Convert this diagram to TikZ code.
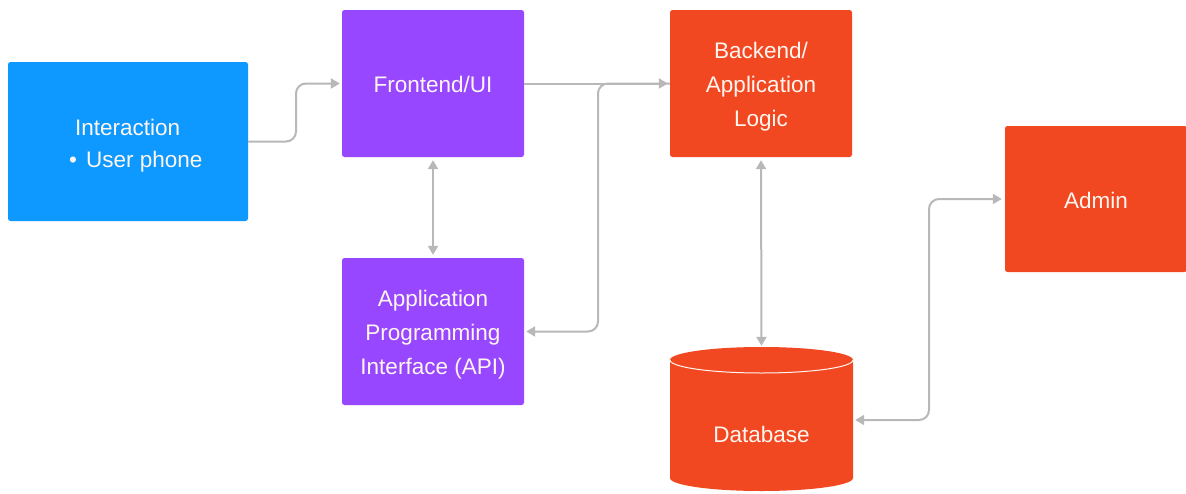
\documentclass[tikz,border=0pt]{standalone}
\usepackage{fontspec}
\setmainfont{Liberation Sans}
\usetikzlibrary{arrows.meta}
\definecolor{cblue}{HTML}{0D99FF}
\definecolor{cpurple}{HTML}{9747FF}
\definecolor{corange}{HTML}{F24822}
\definecolor{cline}{HTML}{B8B8B8}
\definecolor{ctext}{HTML}{FFF6F0}
\begin{document}
\begin{tikzpicture}[x=1pt,y=-1pt,
  box/.style={rounded corners=2.5pt, minimum width=182pt, minimum height=147pt, inner sep=0pt},
  lbl/.style={text=ctext, align=center, inner sep=0pt, font=\fontsize{22.5}{34}\selectfont},
  conn/.style={draw=cline, line width=2pt, rounded corners=10pt},
  tipend/.style={-{Triangle[length=9pt,width=10pt]}, shorten >=2pt},
  tipboth/.style={{Triangle[length=9pt,width=10pt]}-{Triangle[length=9pt,width=10pt]}, shorten >=3pt, shorten <=3pt}
]
\useasboundingbox (0,0) rectangle (1186,493);
\fill[white] (0,0) rectangle (1186,493);

% boxes
\node[box, fill=cblue, minimum width=240pt, minimum height=159pt] (inter) at (128,141.5) {};
\node[lbl, align=left, anchor=west, font=\fontsize{22.5}{32}\selectfont] (intertext) at (75,145.5) {Interaction\\\hspace*{-6pt}\textbullet\hspace{9pt}User phone};

\node[box, fill=cpurple] (front) at (433,83.5) {};
\node[lbl] (fronttext) at (433,84.5) {Frontend/UI};

\node[box, fill=cpurple] (api) at (433,331.5) {};
\node[lbl] (apitext) at (433,335) {Application\\Programming\\Interface (API)};

\node[box, fill=corange] (back) at (761,83.5) {};
\node[lbl] (backtext) at (761,86.5) {Backend/\\Application\\Logic};

\node[box, fill=corange, minimum height=146pt] (admin) at (1096,199) {};
\node[lbl] (admintext) at (1096,200) {Admin};

% database cylinder
\fill[corange] (670,360) -- (670,478) arc[start angle=180,end angle=360,x radius=91.5pt,y radius=13pt]
  -- (853,360) arc[start angle=0,end angle=180,x radius=91.5pt,y radius=13pt] -- cycle;
\draw[ctext, line width=1pt] (670,360) arc[start angle=180,end angle=360,x radius=91.5pt,y radius=13pt];
\node[minimum width=183pt, minimum height=144pt, inner sep=0pt] (db) at (761.5,420) {};
\node[lbl] (dbtext) at (761.5,434) {Database};

% connectors
\draw[conn, tipend] (inter.east) -- (296,141.5) -- (296,83.5) -- (front.west);
\draw[conn, tipend] (front.east) -- (back.west);
\draw[conn, tipend] (back.west) -- (598,83.5) -- (598,331.5) -- (api.east);
\draw[conn, tipboth] (front.south) -- (api.north);
\draw[conn, tipboth] (back.south) -- ([yshift=-1pt]db.north);
\draw[conn, {Triangle[length=9pt,width=10pt]}-{Triangle[length=9pt,width=10pt]}, shorten >=3pt, shorten <=2pt] (db.east) -- (929,420) -- (929,199) -- (admin.west);
\end{tikzpicture}
\end{document}
